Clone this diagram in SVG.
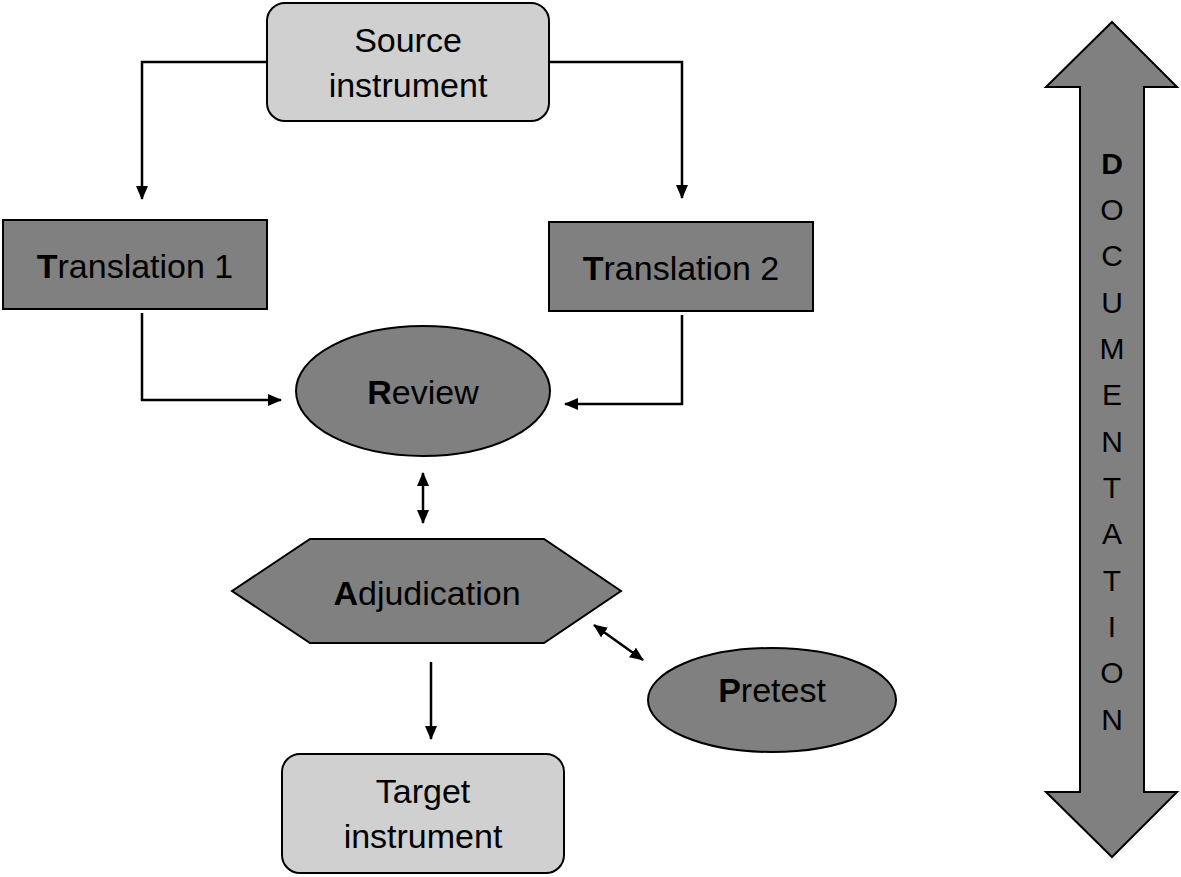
<svg xmlns="http://www.w3.org/2000/svg" width="1181" height="877" viewBox="0 0 1181 877">
<style>
.dark{fill:#808080;stroke:#000;stroke-width:2}
.light{fill:#d0d0d0;stroke:#000;stroke-width:2}
.t{font-family:"Liberation Sans",Arial,sans-serif;font-size:34px;fill:#000;text-anchor:middle}
.d{font-family:"Liberation Sans",Arial,sans-serif;font-size:30px;fill:#000;text-anchor:middle}
.b{font-weight:bold}
.c{fill:none;stroke:#000;stroke-width:2.5}
</style>
<defs>
<marker id="ah" markerWidth="14" markerHeight="12" refX="13" refY="6" orient="auto" markerUnits="userSpaceOnUse">
<path d="M0,0 L14,6 L0,12 Z" fill="#000"/>
</marker>
<marker id="as" markerWidth="14" markerHeight="12" refX="1" refY="6" orient="auto" markerUnits="userSpaceOnUse">
<path d="M14,0 L0,6 L14,12 Z" fill="#000"/>
</marker>
</defs>
<g id="connectors">
<path class="c" d="M266,62 H142 V199" marker-end="url(#ah)"/>
<path class="c" d="M549,62 H682 V198" marker-end="url(#ah)"/>
<path class="c" d="M142,313 V400 H281" marker-end="url(#ah)"/>
<path class="c" d="M682,315 V404 H565" marker-end="url(#ah)"/>
<path class="c" d="M423,473 V523" marker-start="url(#as)" marker-end="url(#ah)"/>
<path class="c" d="M594,625 L643,660" marker-start="url(#as)" marker-end="url(#ah)"/>
<path class="c" d="M431,662 V739" marker-end="url(#ah)"/>
</g>
<g id="source">
<rect class="light" x="267" y="3" width="282" height="118" rx="18"/>
<text class="t" x="408" y="52">Source</text>
<text class="t" x="408" y="97">instrument</text>
</g>
<g id="translation1">
<rect class="dark" x="3" y="220" width="264" height="89"/>
<text class="t" x="135" y="278"><tspan class="b">T</tspan>ranslation 1</text>
</g>
<g id="translation2">
<rect class="dark" x="549" y="222" width="264" height="89"/>
<text class="t" x="681" y="280"><tspan class="b">T</tspan>ranslation 2</text>
</g>
<g id="review">
<ellipse class="dark" cx="423" cy="391" rx="127" ry="65"/>
<text class="t" x="423" y="404"><tspan class="b">R</tspan>eview</text>
</g>
<g id="adjudication">
<polygon class="dark" points="232,591 310,539 544,539 621,591 544,643 310,643"/>
<text class="t" x="427" y="605"><tspan class="b">A</tspan>djudication</text>
</g>
<g id="pretest">
<ellipse class="dark" cx="772" cy="700" rx="124" ry="52"/>
<text class="t" x="772" y="702"><tspan class="b">P</tspan>retest</text>
</g>
<g id="target">
<rect class="light" x="282" y="754" width="282" height="119" rx="18"/>
<text class="t" x="423" y="803">Target</text>
<text class="t" x="423" y="848">instrument</text>
</g>
<g id="documentation">
<polygon class="dark" points="1112,22 1177,87 1144,87 1144,792 1177,792 1112,857 1046,792 1080,792 1080,87 1046,87"/>
<text class="d b" x="1112" y="174">D</text>
<text class="d" x="1112" y="220">O</text>
<text class="d" x="1112" y="266">C</text>
<text class="d" x="1112" y="313">U</text>
<text class="d" x="1112" y="359">M</text>
<text class="d" x="1112" y="405">E</text>
<text class="d" x="1112" y="452">N</text>
<text class="d" x="1112" y="498">T</text>
<text class="d" x="1112" y="544">A</text>
<text class="d" x="1112" y="591">T</text>
<text class="d" x="1112" y="637">I</text>
<text class="d" x="1112" y="683">O</text>
<text class="d" x="1112" y="730">N</text>
</g>
</svg>
